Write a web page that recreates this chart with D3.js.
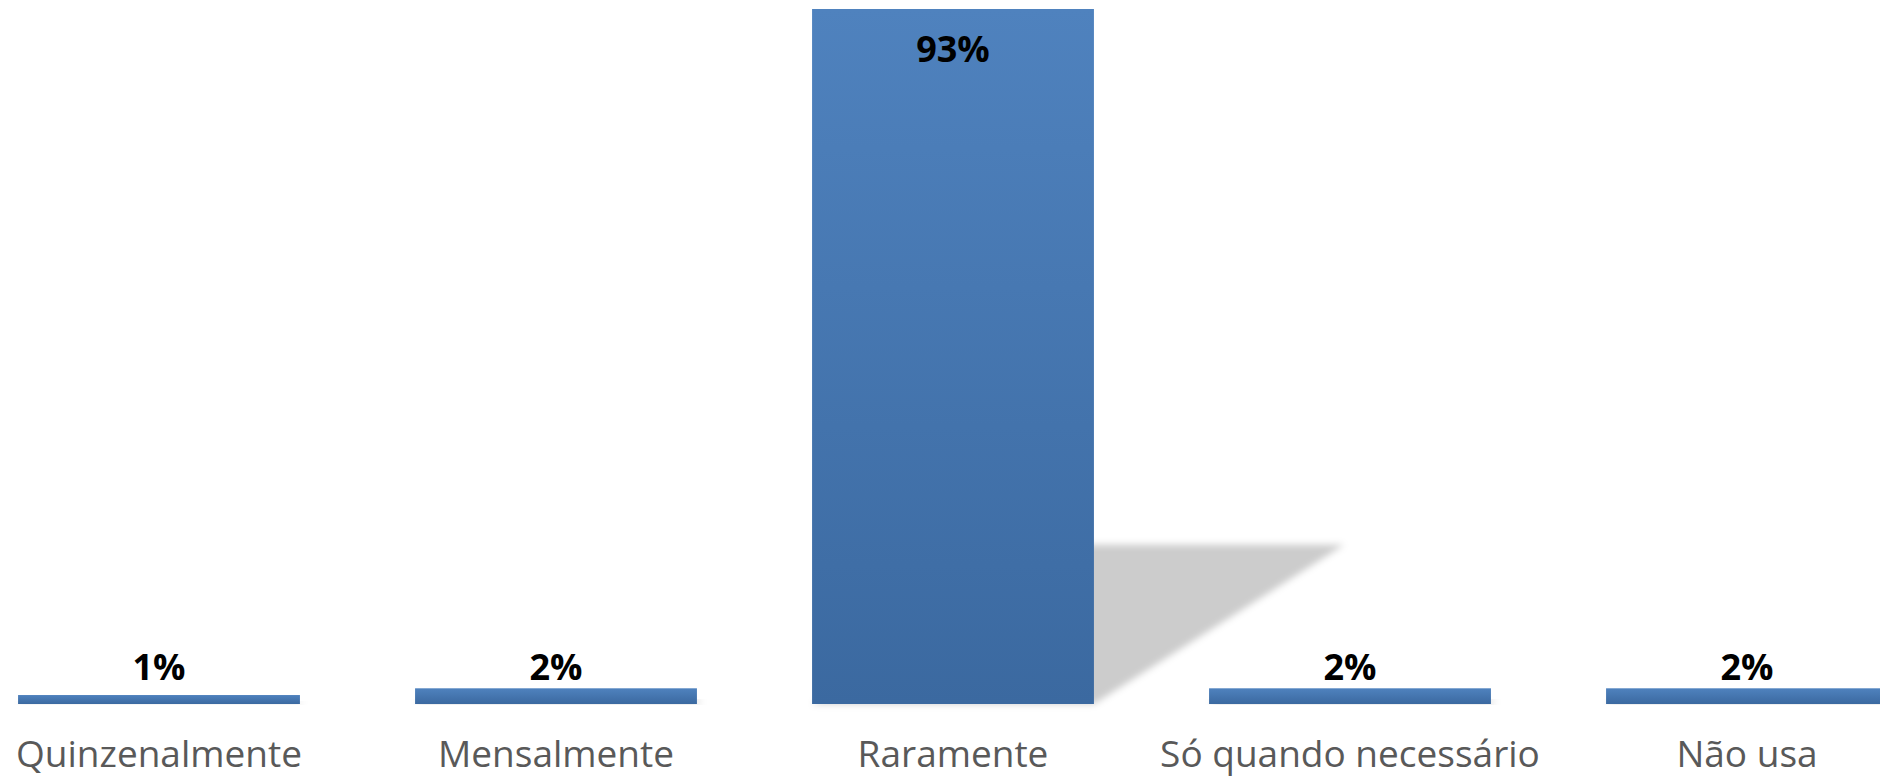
<!DOCTYPE html>
<html>
<head>
<meta charset="utf-8">
<script src="https://cdn.jsdelivr.net/npm/d3@7"></script>
<style>
  html, body { margin: 0; padding: 0; background: #fff; overflow: hidden; }
  svg { display: block; }
</style>
</head>
<body>
<svg id="chart" width="1880" height="777"></svg>
<script>
const categories = ["Quinzenalmente", "Mensalmente", "Raramente", "Só quando necessário", "Não usa"];
const values = [1.2, 2.1, 93, 2.1, 2.1];

const W = 1880, H = 777;
const svg = d3.select("#chart");

const baseY = 704, topY = 9;
const y = d3.scaleLinear().domain([0, d3.max(values)]).range([baseY, topY]);
const x = d3.scaleBand().domain(categories).range([-39.5, 1945.5]).paddingInner(0.29).paddingOuter(0.145);

const defs = svg.append("defs");
const grad = defs.append("linearGradient").attr("id", "barGrad")
  .attr("x1", 0).attr("y1", 0).attr("x2", 0).attr("y2", 1);
grad.append("stop").attr("offset", "0%").attr("stop-color", "#4f82be");
grad.append("stop").attr("offset", "100%").attr("stop-color", "#3b69a0");

const blur = defs.append("filter").attr("id", "shadowBlur")
  .attr("x", "-20%").attr("y", "-20%").attr("width", "140%").attr("height", "140%");
blur.append("feGaussianBlur").attr("stdDeviation", 3.5);

const data = categories.map((c, i) => ({ c, v: values[i] }));
const skewX = 0.36, skewY = 0.229;

// perspective shadows
svg.append("g").selectAll("path").data(data).join("path")
  .attr("d", d => {
    const x0 = x(d.c), x1 = x(d.c) + x.bandwidth();
    const h = y(0) - y(d.v);
    const dx = h * skewX, dy = h * skewY;
    return `M${x0},${y(0)}L${x1},${y(0)}L${x1 + dx},${y(0) - dy}L${x0 + dx},${y(0) - dy}Z`;
  })
  .attr("fill", "#000").attr("fill-opacity", 0.2)
  .attr("filter", "url(#shadowBlur)");

// bars
svg.append("g").selectAll("rect").data(data).join("rect")
  .attr("x", d => x(d.c))
  .attr("y", d => y(d.v))
  .attr("width", x.bandwidth())
  .attr("height", d => y(0) - y(d.v))
  .attr("fill", "url(#barGrad)");

const fmt = v => d3.format(".0f")(v) + "%";

// value labels
svg.append("g").selectAll("text").data(data).join("text")
  .attr("x", d => x(d.c) + x.bandwidth() / 2)
  .attr("y", d => d.v > 50 ? y(d.v) + 53 : y(0) - 24)
  .attr("text-anchor", "middle")
  .attr("font-family", "'Open Sans', sans-serif")
  .attr("font-weight", "bold")
  .attr("font-size", 36)
  .attr("fill", "#000")
  .text(d => fmt(d.v));

// category labels
svg.append("g").selectAll("text").data(data).join("text")
  .attr("x", d => x(d.c) + x.bandwidth() / 2)
  .attr("y", 767)
  .attr("text-anchor", "middle")
  .attr("font-family", "'Open Sans', sans-serif")
  .attr("font-size", 37)
  .attr("fill", "#595959")
  .text(d => d.c);
</script>
</body>
</html>
